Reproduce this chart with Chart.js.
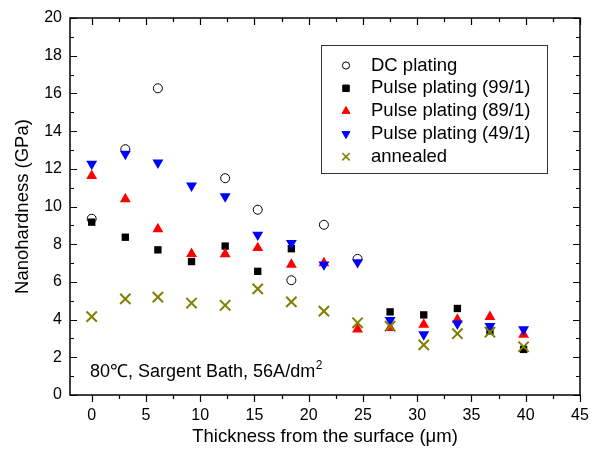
<!DOCTYPE html>
<html>
<head>
<meta charset="utf-8">
<script src="https://cdn.jsdelivr.net/npm/chart.js@4"></script>
<style>
  html, body { margin: 0; padding: 0; background: #fff; }
  #wrap { width: 594px; height: 450px; }
</style>
</head>
<body>
<div id="wrap"><canvas id="mycanvas" width="594" height="450"></canvas></div>
<script>
// thickness from the surface (um)
var thickness = [0, 3.1, 6.1, 9.2, 12.3, 15.3, 18.4, 21.4, 24.5, 27.5, 30.6, 33.7, 36.7, 39.8];
// nanohardness (GPa), null = no point
var dcPlating  = [9.35, 13.04, 16.27, null, 11.5, 9.83, 6.09, 9.03, 7.22, null, null, null, null, null];
var pulse99    = [9.17, 8.37, 7.7, 7.08, 7.9, 6.56, 7.76, null, null, 4.41, 4.25, 4.59, 3.4, 2.42];
var pulse89    = [11.63, 10.39, 8.8, 7.49, 7.48, 7.8, 6.92, 7.0, 3.48, 3.56, 3.74, 4.0, 4.15, 3.21];
var pulse49    = [12.26, 12.79, 12.33, 11.1, 10.53, 8.5, 8.06, 6.92, 7.04, 3.97, 3.21, 3.78, 3.65, 3.48];
var annealed   = [4.16, 5.1, 5.19, 4.88, 4.76, 5.63, 4.94, 4.45, 3.83, 3.65, 2.66, 3.25, 3.33, 2.56];

var seriesNames = ['DC plating', 'Pulse plating (99/1)', 'Pulse plating (89/1)', 'Pulse plating (49/1)', 'annealed'];
var xTickLabels = [0, 5, 10, 15, 20, 25, 30, 35, 40, 45];
var yTickLabels = [0, 2, 4, 6, 8, 10, 12, 14, 16, 18, 20];

function pts(ys) {
    var out = [];
    for (var i in ys) {
        if (ys[i] !== null) out.push({x: thickness[i], y: ys[i]});
    }
    return out;
}

var FONT = 'Arial, "Liberation Sans", sans-serif';

var styles = [
    {pointStyle: 'circle',   radius: 4.5, legR: 3.6, bg: 'rgba(0,0,0,0)', border: '#000', bw: 1, rotation: 0, order: 5},
    {pointStyle: 'rect',     radius: 5.2, legR: 4.6, bg: '#000', border: '#000', bw: 0, rotation: 0, order: 4},
    {pointStyle: 'triangle', radius: 6.3, legR: 4.6, bg: '#ff0000', border: '#ff0000', bw: 0, rotation: 0, order: 3},
    {pointStyle: 'triangle', radius: 6.3, legR: 4.6, bg: '#0000ff', border: '#0000ff', bw: 0, rotation: 180, order: 2},
    {pointStyle: 'crossRot', radius: 7.3, legR: 5.2, bg: '#808000', border: '#808000', bw: 2, rotation: 0, order: 1}
];
var allSeries = [dcPlating, pulse99, pulse89, pulse49, annealed];

var datasets = [];
for (var k = 0; k < allSeries.length; k++) {
    var s = styles[k];
    datasets.push({
        label: seriesNames[k],
        data: pts(allSeries[k]),
        pointStyle: s.pointStyle,
        pointRadius: s.radius,
        pointHoverRadius: s.radius,
        pointRotation: s.rotation,
        backgroundColor: s.bg,
        borderColor: s.border,
        pointBorderWidth: s.bw,
        order: s.order,
        showLine: false
    });
}

// frame, ticks, legend box and annotation
var decorPlugin = {
    id: 'decor',
    afterDatasetsDraw: function(chart) {
        var ctx = chart.ctx, a = chart.chartArea;
        var xs = chart.scales.x, ys = chart.scales.y;
        ctx.save();
        ctx.strokeStyle = '#000';
        ctx.lineWidth = 1.5;
        ctx.strokeRect(a.left, a.top, a.right - a.left, a.bottom - a.top);
        ctx.lineWidth = 1.2;
        ctx.beginPath();
        var v, px, len;
        for (v = 0; v <= 45; v += 2.5) {
            px = Math.round(xs.getPixelForValue(v)) + 0.5;
            len = (v % 5 === 0) ? 7 : 4;
            ctx.moveTo(px, a.bottom); ctx.lineTo(px, a.bottom + len);
            ctx.moveTo(px, a.top); ctx.lineTo(px, a.top + len);
        }
        for (v = 0; v <= 20; v += 1) {
            px = Math.round(ys.getPixelForValue(v)) + 0.5;
            len = (v % 2 === 0) ? 7 : 4;
            ctx.moveTo(a.left, px); ctx.lineTo(a.left + len, px);
            ctx.moveTo(a.right, px); ctx.lineTo(a.right - len, px);
        }
        ctx.stroke();

        // legend
        ctx.lineWidth = 1;
        ctx.strokeStyle = '#333';
        ctx.strokeRect(321.5, 45.5, 226, 128);
        ctx.font = '18.5px ' + FONT;
        ctx.textBaseline = 'middle';
        for (var k = 0; k < styles.length; k++) {
            var s = styles[k];
            var yy = 65.5 + k * 22.8;
            ctx.fillStyle = '#000';
            ctx.fillText(seriesNames[k], 371, yy);
            ctx.fillStyle = s.bg;
            ctx.strokeStyle = s.border;
            ctx.lineWidth = s.bw === 2 ? 1.6 : s.bw;
            Chart.helpers.drawPoint(ctx, {
                pointStyle: s.pointStyle,
                rotation: s.rotation,
                radius: s.legR,
                borderWidth: ctx.lineWidth
            }, 346, yy);
        }

        // annotation
        ctx.fillStyle = '#000';
        ctx.textBaseline = 'alphabetic';
        ctx.font = '18px ' + FONT;
        var txt = '80\u2103, Sargent Bath, 56A/dm';
        ctx.fillText(txt, 90, 377);
        var w = ctx.measureText(txt).width;
        ctx.font = '12px ' + FONT;
        ctx.fillText('2', 90 + w + 0.5, 369);
        ctx.restore();
    }
};

var ctx = document.getElementById('mycanvas');
var chart = new Chart(ctx, {
    type: 'scatter',
    data: { datasets: datasets },
    options: {
        responsive: false,
        animation: false,
        layout: { padding: { top: 18, right: 14, left: 0, bottom: 0 } },
        plugins: {
            legend: { display: false },
            tooltip: { enabled: false }
        },
        scales: {
            x: {
                type: 'linear',
                min: -2,
                max: 45,
                grid: { display: false, drawTicks: false },
                border: { display: false },
                afterBuildTicks: function(scale) {
                    scale.ticks = xTickLabels.map(function(v) { return {value: v}; });
                },
                afterFit: function(scale) {
                    scale.height = 55;
                    scale.paddingLeft = 0;
                    scale.paddingRight = 0;
                },
                ticks: {
                    color: '#000',
                    padding: 11,
                    maxRotation: 0,
                    font: { family: FONT, size: 16 }
                },
                title: {
                    display: true,
                    text: 'Thickness from the surface (\u03bcm)',
                    color: '#000',
                    font: { family: FONT, size: 18.5 },
                    padding: { top: 0, bottom: 2 }
                }
            },
            y: {
                type: 'linear',
                min: 0,
                max: 20,
                grid: { display: false, drawTicks: false },
                border: { display: false },
                afterBuildTicks: function(scale) {
                    scale.ticks = yTickLabels.map(function(v) { return {value: v}; });
                },
                afterFit: function(scale) {
                    scale.width = 70;
                    scale.paddingTop = 0;
                    scale.paddingBottom = 0;
                },
                ticks: {
                    color: '#000',
                    padding: 8,
                    font: { family: FONT, size: 16 }
                },
                title: {
                    display: true,
                    text: 'Nanohardness (GPa)',
                    color: '#000',
                    font: { family: FONT, size: 18.5 },
                    padding: { top: 12, bottom: 0 }
                }
            }
        }
    },
    plugins: [decorPlugin]
});
</script>
</body>
</html>
